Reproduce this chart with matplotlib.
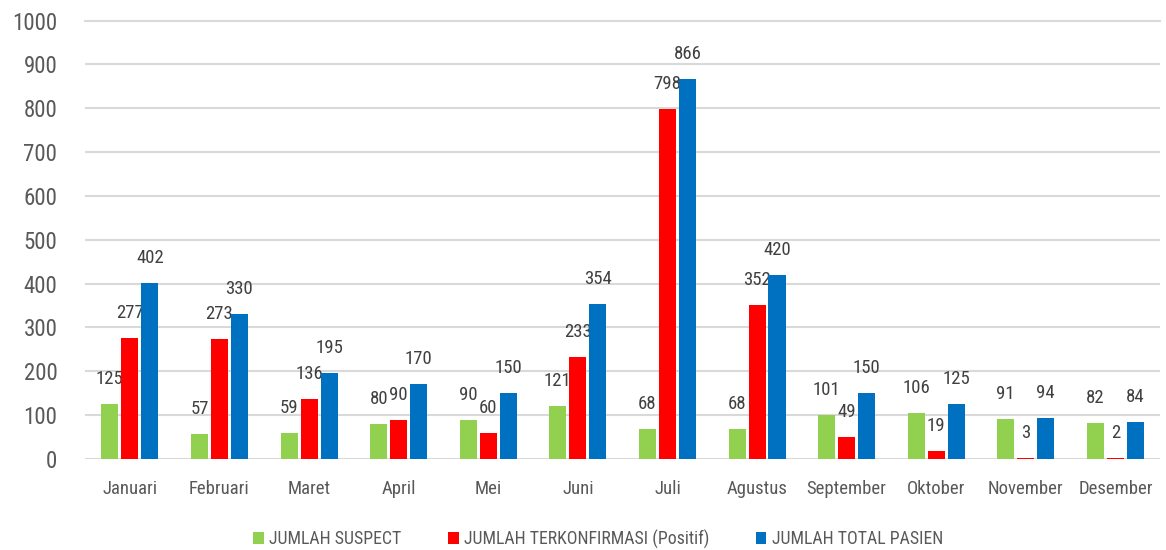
import numpy as np
import matplotlib.pyplot as plt
from matplotlib import font_manager

months = ['Januari', 'Februari', 'Maret', 'April', 'Mei', 'Juni', 'Juli',
          'Agustus', 'September', 'Oktober', 'November', 'Desember']
suspect = [125, 57, 59, 80, 90, 121, 68, 68, 101, 106, 91, 82]
terkonfirmasi = [277, 273, 136, 90, 60, 233, 798, 352, 49, 19, 3, 2]
total = [402, 330, 195, 170, 150, 354, 866, 420, 150, 125, 94, 84]

names = set(f.name for f in font_manager.fontManager.ttflist)
fam = 'DejaVu Sans'
for cand in ['Liberation Sans Narrow', 'Roboto Condensed', 'Open Sans Condensed', 'Lato']:
    if cand in names:
        fam = cand
        break
plt.rcParams['font.family'] = [fam, 'DejaVu Sans']

fig = plt.figure(figsize=(11.66, 5.5), dpi=100)
ax = fig.add_axes([0.073, 0.1655, 0.922, 0.797])

x = np.arange(len(months))
w = 0.19
off = 0.223
series = [(suspect, '#92D050', 'JUMLAH SUSPECT', -off),
          (terkonfirmasi, '#FF0000', 'JUMLAH TERKONFIRMASI (Positif)', 0),
          (total, '#0070C0', 'JUMLAH TOTAL PASIEN', off)]

for vals, col, lab, dx in series:
    bars = ax.bar(x + dx, vals, w, color=col, label=lab, zorder=3)
    for b, v in zip(bars, vals):
        ax.annotate(str(v), (b.get_x() + b.get_width() / 2, v),
                    xytext=(0, 18), textcoords='offset points',
                    ha='center', va='center', fontsize=13.5, color='#404040')

ax.set_xlim(-0.5, len(months) - 0.5)
ax.set_ylim(0, 1000)
ax.set_yticks(range(0, 1001, 100))
ax.set_xticks(x)
ax.set_xticklabels(months)
ax.tick_params(axis='y', length=0, labelsize=16.5, labelcolor='#595959', pad=20)
ax.tick_params(axis='x', length=0, labelsize=13.5, labelcolor='#595959', pad=15)
ax.grid(axis='y', color='#D9D9D9', linewidth=1.5, zorder=0)
ax.yaxis.get_gridlines()[-1].set_clip_on(False)
for s in ax.spines.values():
    s.set_visible(False)

fig.legend(loc='center', bbox_to_anchor=(0.513, 0.02), ncol=3, frameon=False,
           fontsize=12.8, labelcolor='#595959', handlelength=0.6, handleheight=0.6,
           handletextpad=0.3, columnspacing=2.6)

fig.savefig('out.png', dpi=100)
